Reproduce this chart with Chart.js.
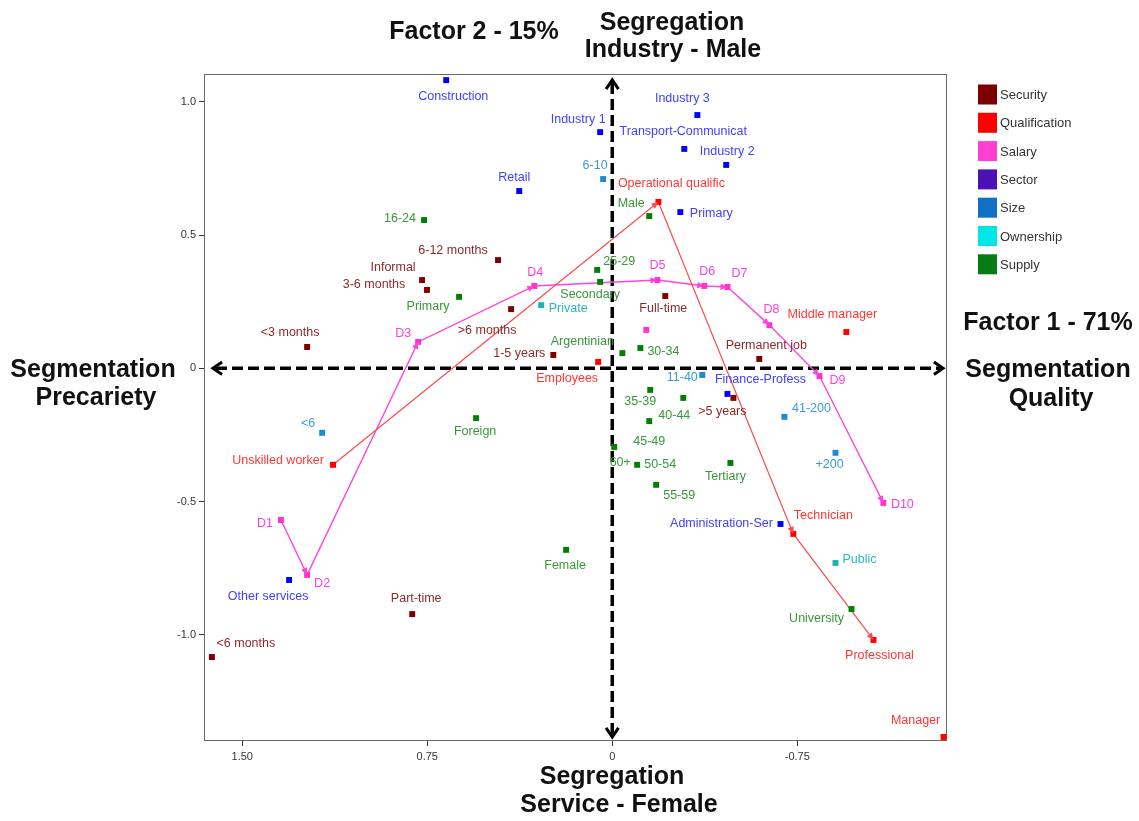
<!DOCTYPE html>
<html>
<head>
<meta charset="utf-8">
<script src="https://cdn.jsdelivr.net/npm/chart.js@4.4.0/dist/chart.umd.min.js"></script>
<style>
  html, body { margin: 0; padding: 0; background: #fff; }
  #c { display: block; }
</style>
</head>
<body>
<canvas id="c" width="1139" height="821"></canvas>
<script>
/* Correspondence analysis map — factor 1 (x, reversed) vs factor 2 (y) */

const groups = ['Security', 'Qualification', 'Salary', 'Sector', 'Size', 'Ownership', 'Supply'];

const securityNames = ['6-12 months', 'Informal', '3-6 months', '>6 months', '<3 months', '1-5 years', 'Full-time', 'Permanent job', '>5 years', 'Part-time', '<6 months'];
const securityX     = [0.463, 0.771, 0.751, 0.410, 1.237, 0.239, -0.215, -0.596, -0.491, 0.811, 1.623];
const securityY     = [0.406, 0.331, 0.294, 0.222, 0.080, 0.050, 0.271, 0.035, -0.111, -0.922, -1.083];

const qualificationNames = ['Operational qualific', 'Employees', 'Unskilled worker', 'Middle manager', 'Technician', 'Professional', 'Manager'];
const qualificationX     = [-0.187, 0.057, 1.132, -0.949, -0.734, -1.059, -1.343];
const qualificationY     = [0.624, 0.024, -0.362, 0.136, -0.621, -1.019, -1.383];

const salaryNames = ['D1', 'D2', 'D3', 'D4', 'D5', 'D6', 'D7', 'D8', 'D9', 'D10', ''];
const salaryX     = [1.343, 1.237, 0.787, 0.316, -0.183, -0.373, -0.467, -0.637, -0.840, -1.099, -0.138];
const salaryY     = [-0.569, -0.775, 0.099, 0.309, 0.331, 0.309, 0.305, 0.162, -0.029, -0.505, 0.144];

const sectorNames = ['Construction', 'Industry 1', 'Retail', 'Industry 3', 'Transport-Communicat', 'Industry 2', 'Primary', 'Finance-Profess', 'Administration-Ser', 'Other services'];
const sectorX     = [0.673, 0.049, 0.377, -0.345, -0.292, -0.462, -0.276, -0.467, -0.682, 1.310];
const sectorY     = [1.081, 0.886, 0.665, 0.950, 0.823, 0.763, 0.586, -0.096, -0.584, -0.794];

const sizeNames = ['6-10', '<6', '11-40', '41-200', '+200'];
const sizeX     = [0.037, 1.176, -0.365, -0.698, -0.905];
const sizeY     = [0.710, -0.242, -0.025, -0.182, -0.317];

const ownershipNames = ['Private', 'Public'];
const ownershipX     = [0.288, -0.905];
const ownershipY     = [0.237, -0.730];

const supplyNames = ['16-24', 'Primary', 'Male', '25-29', 'Secondary', 'Argentinian', '30-34', '35-39', '40-44', '45-49', '60+', '50-54', '55-59', 'Tertiary', 'Foreign', 'Female', 'University'];
const supplyX     = [0.763, 0.621, -0.150, 0.061, 0.049, -0.041, -0.114, -0.154, -0.288, -0.150, -0.008, -0.101, -0.178, -0.479, 0.552, 0.187, -0.970];
const supplyY     = [0.556, 0.268, 0.571, 0.369, 0.324, 0.057, 0.076, -0.081, -0.111, -0.198, -0.295, -0.362, -0.437, -0.355, -0.187, -0.681, -0.903];

// trajectories drawn through the named points
const qualificationPath = ['Unskilled worker', 'Operational qualific', 'Technician', 'Professional'];
const salaryPath        = ['D1', 'D2', 'D3', 'D4', 'D5', 'D6', 'D7', 'D8', 'D9', 'D10'];

const xTicks = [1.5, 0.75, 0, -0.75];
const yTicks = [1, 0.5, 0, -0.5, -1];

// ---- styling ----
const markerColors = ['#800000', '#ff0000', '#ff33cc', '#0000ff', '#1e8ad0', '#20b2b2', '#008000'];
const textColors   = ['#8b2a2a', '#ff3535', '#ff3ddc', '#4040ff', '#3c9ad2', '#2cb8b8', '#3a963a'];
const legendColors = ['#7b0000', '#ff0000', '#ff3fd0', '#4a12b5', '#1270c4', '#00e6e6', '#067d14'];

// label offsets in pixels (text centre relative to marker)
const securityOff = [[-45,-10],[-29,-13],[-53,-5],[-24,21],[-17,-14],[-34,-1],[-2,12],[7,-13],[-11,14],[4,-16],[34,-13]];
const qualificationOff = [[13,-18],[-31,17],[-55,-4],[-14,-18],[30,-18],[6,16],[-28,-16]];
const salaryOff = [[-16,4],[15,9],[-15,-8],[1,-13],[0,-15],[3,-14],[12,-13],[2,-16],[18,5],[19,2],[0,0]];
const sectorOff = [[7,16],[-22,-13],[-5,-13],[-15,-17],[-1,-17],[1,-13],[31,1],[33,-14],[-59,0],[-21,17]];
const sizeOff = [[-8,-13],[-14,-9],[-20,3],[27,-8],[-6,12]];
const ownershipOff = [[27,3],[24,-3]];
const supplyOff = [[-24,-2],[-31,10],[-18,-13],[22,-8],[-10,13],[-40,-12],[23,3],[-10,12],[-9,18],[0,20],[6,16],[23,0],[23,11],[-5,14],[-1,13],[-1,16],[-35,10]];

const FONT = '"Liberation Sans", Arial, sans-serif';

const groupData = [
  [securityNames, securityX, securityY, securityOff],
  [qualificationNames, qualificationX, qualificationY, qualificationOff],
  [salaryNames, salaryX, salaryY, salaryOff],
  [sectorNames, sectorX, sectorY, sectorOff],
  [sizeNames, sizeX, sizeY, sizeOff],
  [ownershipNames, ownershipX, ownershipY, ownershipOff],
  [supplyNames, supplyX, supplyY, supplyOff],
];

function pathPoints(path, names, xs, ys) {
  return path.map(n => { const i = names.indexOf(n); return { x: xs[i], y: ys[i] }; });
}

const datasets = [
  {
    label: 'qualPath', isPath: true,
    data: pathPoints(qualificationPath, qualificationNames, qualificationX, qualificationY),
    showLine: true, borderColor: '#ff4a4a', borderWidth: 1.2, pointRadius: 0, fill: false, order: 2,
  },
  {
    label: 'salPath', isPath: true,
    data: pathPoints(salaryPath, salaryNames, salaryX, salaryY),
    showLine: true, borderColor: '#ff44dd', borderWidth: 1.4, pointRadius: 0, fill: false, order: 2,
  },
];

groupData.forEach(([names, xs, ys, off], g) => {
  datasets.push({
    label: groups[g],
    names, off, gi: g,
    data: xs.map((v, i) => ({ x: v, y: ys[i] })),
    pointStyle: 'rect',
    pointRadius: 4.2,
    pointBackgroundColor: markerColors[g],
    pointBorderColor: markerColors[g],
    pointBorderWidth: 0,
    showLine: false,
    order: 1,
  });
});

function chevron(ctx, tx, ty, dx, dy, len) {
  const ang = Math.atan2(dy, dx);
  ctx.beginPath();
  ctx.moveTo(tx - len * Math.cos(ang - 0.6), ty - len * Math.sin(ang - 0.6));
  ctx.lineTo(tx, ty);
  ctx.lineTo(tx - len * Math.cos(ang + 0.6), ty - len * Math.sin(ang + 0.6));
  ctx.stroke();
}

function arrowHead(ctx, p0, p1, color) {
  const ang = Math.atan2(p1.y - p0.y, p1.x - p0.x);
  const L = 7, W = 3.2;
  ctx.fillStyle = color;
  ctx.beginPath();
  ctx.moveTo(p1.x, p1.y);
  ctx.lineTo(p1.x - L * Math.cos(ang) + W * Math.sin(ang), p1.y - L * Math.sin(ang) - W * Math.cos(ang));
  ctx.lineTo(p1.x - L * Math.cos(ang) - W * Math.sin(ang), p1.y - L * Math.sin(ang) + W * Math.cos(ang));
  ctx.closePath();
  ctx.fill();
}

const deco = {
  id: 'deco',
  beforeDatasetsDraw(chart) {
    const { ctx, chartArea: a, scales: { x, y } } = chart;
    ctx.save();
    ctx.strokeStyle = '#6a6a6a';
    ctx.lineWidth = 1;
    ctx.strokeRect(a.left + 0.5, a.top + 0.5, a.right - a.left - 1, a.bottom - a.top - 1);

    const x0 = x.getPixelForValue(0), y0 = y.getPixelForValue(0);
    ctx.strokeStyle = '#000';
    ctx.lineWidth = 3.5;
    ctx.setLineDash([11, 5]);
    ctx.beginPath(); ctx.moveTo(x0, a.top + 9); ctx.lineTo(x0, a.bottom - 7); ctx.stroke();
    ctx.beginPath(); ctx.moveTo(a.left + 12, y0); ctx.lineTo(a.right - 7, y0); ctx.stroke();
    ctx.setLineDash([]);
    ctx.lineWidth = 3;
    chevron(ctx, x0, a.top + 6, 0, -1, 11);
    chevron(ctx, x0, a.bottom - 4, 0, 1, 11);
    chevron(ctx, a.left + 9, y0, -1, 0, 11);
    chevron(ctx, a.right - 4, y0, 1, 0, 11);
    ctx.restore();
  },
  afterDatasetsDraw(chart) {
    const { ctx } = chart;
    ctx.save();
    // small arrowheads at the end of each trajectory segment
    chart.data.datasets.forEach((ds, di) => {
      if (!ds.isPath) return;
      const pts = chart.getDatasetMeta(di).data;
      for (let i = 1; i < pts.length; i++) arrowHead(ctx, pts[i - 1], pts[i], ds.borderColor);
    });
    ctx.font = '12.5px ' + FONT;
    ctx.textAlign = 'center';
    ctx.textBaseline = 'middle';
    chart.data.datasets.forEach((ds, di) => {
      if (!ds.names) return;
      const pts = chart.getDatasetMeta(di).data;
      ctx.fillStyle = textColors[ds.gi];
      ds.names.forEach((n, i) => {
        if (!n) return;
        const [dx, dy] = ds.off[i];
        ctx.fillText(n, pts[i].x + dx, pts[i].y + dy);
      });
    });
    ctx.restore();
  },
  afterDraw(chart) {
    const { ctx } = chart;
    ctx.save();
    ctx.fillStyle = '#111';
    ctx.font = 'bold 25px ' + FONT;
    ctx.textAlign = 'center';
    ctx.textBaseline = 'middle';
    const t = (s, x, y) => ctx.fillText(s, x, y);
    t('Factor 2 - 15%', 474, 32);
    t('Segregation', 672, 23);
    t('Industry - Male', 673, 50);
    t('Segmentation', 93, 370);
    t('Precariety', 96, 398);
    t('Factor 1 - 71%', 1048, 323);
    t('Segmentation', 1048, 370);
    t('Quality', 1051, 399);
    t('Segregation', 612, 777);
    t('Service - Female', 619, 805);

    // legend
    ctx.font = '13px ' + FONT;
    ctx.textAlign = 'left';
    groups.forEach((g, i) => {
      const cy = 94.5 + i * 28.3;
      ctx.fillStyle = legendColors[i];
      ctx.fillRect(978, cy - 10, 19, 20);
      ctx.fillStyle = '#333';
      ctx.fillText(g, 1000, cy + 1);
    });
    ctx.restore();
  }
};

new Chart(document.getElementById('c').getContext('2d'), {
  type: 'scatter',
  data: { datasets },
  options: {
    responsive: false,
    animation: false,
    layout: { padding: { top: 74, right: 192, left: 0, bottom: 0 } },
    plugins: { legend: { display: false }, tooltip: { enabled: false } },
    scales: {
      x: {
        type: 'linear', reverse: true, min: -1.357, max: 1.655,
        afterBuildTicks: s => { s.ticks = xTicks.map(v => ({ value: v })); },
        afterFit: s => { s.height = 80; },
        grid: { display: true, drawOnChartArea: false, drawTicks: true, tickLength: 5, color: '#333' },
        border: { display: false },
        ticks: {
          autoSkip: false, maxRotation: 0, padding: 4, color: '#333',
          font: { size: 11, family: FONT },
          callback: v => v === 0 ? '0' : v.toFixed(2)
        }
      },
      y: {
        type: 'linear', min: -1.398, max: 1.104,
        afterBuildTicks: s => { s.ticks = yTicks.map(v => ({ value: v })); },
        afterFit: s => { s.width = 204; },
        grid: { display: true, drawOnChartArea: false, drawTicks: true, tickLength: 5, color: '#333' },
        border: { display: false },
        ticks: {
          autoSkip: false, padding: 3, color: '#333',
          font: { size: 11, family: FONT },
          callback: v => v === 0 ? '0' : v.toFixed(1)
        }
      }
    }
  },
  plugins: [deco]
});
</script>
</body>
</html>
